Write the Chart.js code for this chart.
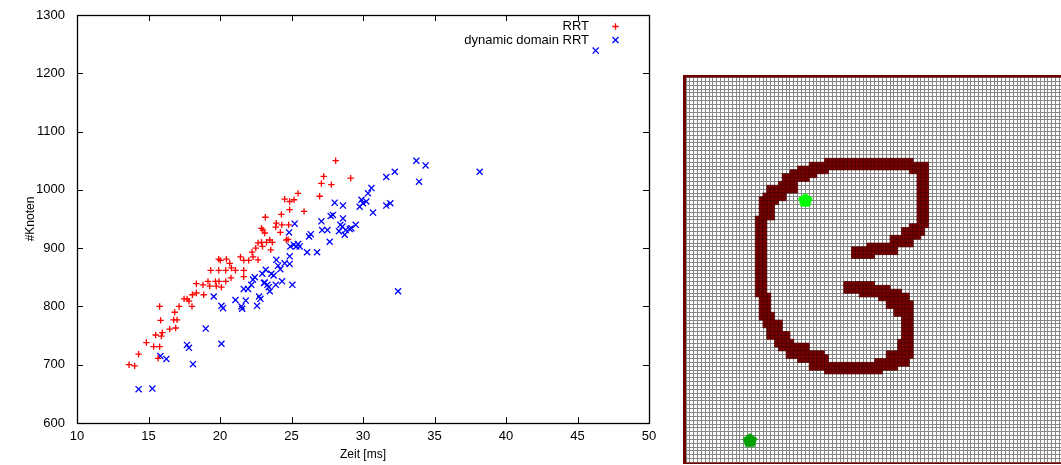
<!DOCTYPE html>
<html>
<head>
<meta charset="utf-8">
<script src="https://cdn.jsdelivr.net/npm/chart.js@4"></script>
<style>
  html, body { margin: 0; padding: 0; background: #fff; width: 1061px; height: 465px; overflow: hidden; }
  #plot { position: absolute; left: 0; top: 0; }
  #map  { position: absolute; left: 683px; top: 75px; }
</style>
</head>
<body>
<canvas id="plot" width="680" height="465"></canvas>
<canvas id="map" width="392" height="390"></canvas>
<script>
// ---- Planner runs: time [ms] vs. number of tree nodes ----
const rrtTime = [
  13.64, 14.03, 14.31, 14.85, 15.36, 15.5, 15.78, 15.67, 15.9, 15.97,
  15.78, 15.85, 16.48, 16.76, 17.0, 16.83, 16.9, 17.14, 17.49, 17.7,
  17.83, 18.04, 18.07, 18.35, 18.35, 18.86, 18.81, 19.16, 19.28, 19.68,
  19.74, 19.93, 20.1, 19.35, 19.91, 20.03, 19.91, 20.4, 20.4, 20.45,
  20.68, 20.8, 20.77, 21.08, 21.43, 21.66, 21.66, 21.66, 22.01, 22.24,
  22.31, 22.66, 22.5, 22.66, 22.9, 22.97, 23.25, 23.48, 23.66, 23.55,
  22.9, 23.0, 23.13, 23.94, 23.9, 24.22, 24.32, 24.64, 24.76, 24.8,
  28.09, 27.25, 27.09, 27.79, 29.14, 26.97, 25.46, 24.52, 24.87, 25.18,
  24.29, 24.87, 25.88, 23.17
];
const rrtNodes = [
  700, 698, 718, 738, 731, 751, 731, 711, 749, 755,
  800, 776, 761, 777, 777, 790, 763, 800, 813, 813,
  809, 800, 820, 823, 839, 820, 837, 843, 835, 843,
  835, 843, 833, 862, 881, 879, 862, 862, 843, 881,
  874, 866, 849, 862, 885, 879, 862, 851, 879, 893,
  885, 880, 900, 909, 910, 903, 910, 914, 910, 897,
  934, 931, 926, 943, 936, 927, 940, 914, 915, 940,
  1050, 1023, 1011, 1009, 1020, 989, 994, 984, 980, 983,
  958, 966, 963, 953
];
const ddrrtTime = [
  14.31, 15.27, 15.83, 16.25, 17.69, 17.83, 18.11, 19.0, 20.1, 19.56,
  20.1, 20.21, 21.08, 21.5, 21.55, 21.8, 22.59, 22.73, 22.83, 21.66,
  21.96, 22.19, 22.31, 22.43, 22.96, 23.12, 23.2, 23.08, 23.41, 23.48,
  23.31, 23.59, 23.75, 23.9, 23.94, 24.06, 24.22, 24.34, 24.52, 24.87,
  24.87, 25.06, 24.92, 25.15, 25.34, 25.46, 25.57, 24.83, 25.22, 26.09,
  26.23, 26.35, 26.79, 27.09, 27.14, 27.51, 27.67, 27.74, 27.9, 28.02,
  28.6, 28.32, 28.42, 28.56, 28.6, 28.72, 28.79, 29.07, 29.49, 29.77,
  30.0, 30.23, 29.19, 29.89, 30.35, 30.59, 31.63, 33.92, 32.22, 33.73,
  34.38, 38.16, 46.27, 31.63, 31.91, 30.7, 32.45
];
const ddrrtNodes = [
  658, 659, 715, 710, 734, 729, 701, 762, 736, 817,
  801, 797, 811, 800, 796, 810, 801, 817, 813, 830,
  830, 837, 846, 850, 856, 841, 863, 840, 833, 826,
  837, 856, 853, 837, 880, 870, 864, 843, 874, 873,
  886, 837, 903, 906, 903, 907, 903, 927, 942, 893,
  920, 924, 893, 946, 931, 931, 911, 955, 957, 978,
  973, 929, 940, 937, 951, 923, 931, 933, 940, 971,
  977, 980, 934, 983, 994, 1003, 1022, 1014, 1031, 1050,
  1042, 1031, 1239, 973, 977, 961, 826
];
const seriesLabels = ['RRT', 'dynamic domain RRT'];
const timeTicks = [10, 15, 20, 25, 30, 35, 40, 45, 50];
const nodeTicks = [600, 700, 800, 900, 1000, 1100, 1200, 1300];

// ---- Occupancy map (100 x 100 cells): wall blocks [col0, col1, row0, row1] ----
const mapCells = 100;
const wallBlocks = [
  [36, 58, 21, 23], [32, 36, 22, 24], [29, 33, 23, 25], [27, 31, 24, 26],
  [25, 28, 25, 27], [24, 28, 27, 29], [21, 25, 28, 31], [20, 23, 30, 32],
  [19, 22, 31, 36], [18, 20, 36, 56], [19, 21, 56, 62], [20, 22, 61, 64],
  [21, 24, 63, 67], [23, 26, 66, 69], [24, 27, 68, 70], [26, 31, 69, 72],
  [29, 35, 71, 73], [32, 36, 72, 75], [36, 50, 74, 76], [49, 54, 73, 75],
  [52, 57, 71, 74], [55, 58, 68, 72], [56, 58, 60, 69], [54, 58, 58, 61],
  [52, 57, 56, 59], [50, 55, 55, 57], [45, 52, 54, 56], [41, 48, 53, 55],
  [58, 62, 22, 24], [60, 62, 23, 38], [58, 61, 38, 40], [56, 60, 39, 41],
  [53, 58, 41, 43], [47, 54, 43, 45], [43, 48, 44, 46]
];
const startCell = [31.0, 31.8];
const goalCell = [16.6, 94.2];

const FONT = "'Liberation Sans', Arial, Helvetica, sans-serif";

// ---------- scatter plot ----------
const frameAndTicks = {
  id: 'frameAndTicks',
  afterDatasetsDraw(chart) {
    const { ctx, chartArea: a, scales: { x, y } } = chart;
    ctx.save();
    ctx.strokeStyle = '#000';
    ctx.lineWidth = 1;
    ctx.beginPath();
    const len = 6;
    x.ticks.forEach(t => {
      const px = Math.round(x.getPixelForValue(t.value)) + 0.5;
      ctx.moveTo(px, a.bottom); ctx.lineTo(px, a.bottom - len);
      ctx.moveTo(px, a.top); ctx.lineTo(px, a.top + len);
    });
    y.ticks.forEach(t => {
      const py = Math.round(y.getPixelForValue(t.value)) + 0.5;
      ctx.moveTo(a.left, py); ctx.lineTo(a.left + len, py);
      ctx.moveTo(a.right, py); ctx.lineTo(a.right - len, py);
    });
    ctx.stroke();
    ctx.lineWidth = 1.3;
    ctx.strokeRect(Math.round(a.left) + 0.5, Math.round(a.top) + 0.5,
                   Math.round(a.right - a.left), Math.round(a.bottom - a.top));
    ctx.restore();
  }
};

const keyBox = {
  id: 'keyBox',
  afterDraw(chart) {
    const { ctx, chartArea: a } = chart;
    ctx.save();
    ctx.font = '13px ' + FONT;
    ctx.textAlign = 'right';
    ctx.textBaseline = 'middle';
    chart.data.datasets.forEach((ds, i) => {
      const yy = a.top + 11.5 + i * 13.5;
      const tx = a.right - 60;
      const mx = a.right - 33.5;
      ctx.fillStyle = '#000';
      ctx.fillText(ds.label, tx, yy);
      ctx.strokeStyle = ds.borderColor;
      ctx.lineWidth = 1.3;
      ctx.beginPath();
      if (ds.pointStyle === 'cross') {
        ctx.moveTo(mx - 3.2, yy); ctx.lineTo(mx + 3.2, yy);
        ctx.moveTo(mx, yy - 3.2); ctx.lineTo(mx, yy + 3.2);
      } else {
        ctx.moveTo(mx - 3, yy - 3); ctx.lineTo(mx + 3, yy + 3);
        ctx.moveTo(mx + 3, yy - 3); ctx.lineTo(mx - 3, yy + 3);
      }
      ctx.stroke();
    });
    ctx.restore();
  }
};

new Chart(document.getElementById('plot'), {
  type: 'scatter',
  data: {
    datasets: [
      {
        label: seriesLabels[0],
        data: rrtTime.map((t, i) => ({ x: t, y: rrtNodes[i] })),
        pointStyle: 'cross', pointRadius: 3.2, pointBorderWidth: 1.3,
        borderColor: '#ff0000', backgroundColor: '#ff0000'
      },
      {
        label: seriesLabels[1],
        data: ddrrtTime.map((t, i) => ({ x: t, y: ddrrtNodes[i] })),
        pointStyle: 'crossRot', pointRadius: 4.3, pointBorderWidth: 1.3,
        borderColor: '#0000ff', backgroundColor: '#0000ff'
      }
    ]
  },
  options: {
    responsive: false, animation: false, events: [],
    layout: { autoPadding: false, padding: { left: 0, right: 31, top: 15, bottom: 0 } },
    plugins: { legend: { display: false }, tooltip: { enabled: false } },
    scales: {
      x: {
        type: 'linear', min: timeTicks[0], max: timeTicks[timeTicks.length - 1],
        afterBuildTicks: s => { s.ticks = timeTicks.map(v => ({ value: v })); },
        afterFit: s => { s.height = 42; s.paddingLeft = 0; s.paddingRight = 0; },
        grid: { display: false, drawTicks: false }, border: { display: false },
        ticks: { font: { family: FONT, size: 13 }, color: '#000', padding: 6, maxRotation: 0, autoSkip: false,
                 callback: v => String(v) },
        title: { display: true, text: 'Zeit [ms]', color: '#000', font: { family: FONT, size: 12 }, padding: { top: 0, bottom: 3 } }
      },
      y: {
        type: 'linear', min: nodeTicks[0], max: nodeTicks[nodeTicks.length - 1],
        afterBuildTicks: s => { s.ticks = nodeTicks.map(v => ({ value: v })); },
        afterFit: s => { s.width = 77; s.paddingTop = 0; s.paddingBottom = 0; },
        grid: { display: false, drawTicks: false }, border: { display: false },
        ticks: { font: { family: FONT, size: 13 }, color: '#000', padding: 12, autoSkip: false,
                 callback: v => String(v) },
        title: { display: true, text: '#Knoten', color: '#000', font: { family: FONT, size: 12 }, padding: { top: 23, bottom: 0 } }
      }
    }
  },
  plugins: [frameAndTicks, keyBox]
});

// ---------- occupancy grid ----------
function pentagon(color, size) {
  const c = document.createElement('canvas');
  c.width = c.height = size;
  const g = c.getContext('2d');
  const R = size / 2 - 0.4;
  g.fillStyle = color;
  g.beginPath();
  for (let i = 0; i < 5; i++) {
    const ang = -Math.PI / 2 + i * 2 * Math.PI / 5;
    g.lineTo(size / 2 + R * Math.cos(ang), size / 2 + R * Math.sin(ang) + 0.095 * R);
  }
  g.closePath();
  g.fill();
  return c;
}

const wallCells = [];
const seen = new Set();
wallBlocks.forEach(([c0, c1, r0, r1]) => {
  for (let c = c0; c <= c1; c++) {
    for (let r = r0; r <= r1; r++) {
      const k = c * 1000 + r;
      if (!seen.has(k)) { seen.add(k); wallCells.push({ x: c + 0.5, y: r + 0.5 }); }
    }
  }
});

const mapBorder = {
  id: 'mapBorder',
  afterDraw(chart) {
    const { ctx, chartArea: a } = chart;
    ctx.save();
    ctx.fillStyle = '#6e0000';
    ctx.fillRect(a.left - 3, a.top - 2.5, 3, a.bottom - a.top + 4);
    ctx.fillRect(a.left - 3, a.top - 2.5, a.right - a.left + 8, 2.5);
    ctx.fillRect(a.left - 3, a.bottom, a.right - a.left + 8, 1.5);
    ctx.restore();
  }
};

const cellTicks = Array.from({ length: mapCells + 1 }, (_, i) => ({ value: i }));
const cellPx = 385 / mapCells;

new Chart(document.getElementById('map'), {
  type: 'scatter',
  data: {
    datasets: [
      {
        label: 'walls', data: wallCells, pointStyle: 'rect',
        pointRadius: cellPx / Math.SQRT2 + 0.1, pointBorderWidth: 0.6,
        backgroundColor: '#7a0000', borderColor: '#420000'
      },
      {
        label: 'start', data: [{ x: startCell[0], y: startCell[1] }],
        pointStyle: pentagon('#00ff00', 16), pointRadius: 8
      },
      {
        label: 'goal', data: [{ x: goalCell[0], y: goalCell[1] }],
        pointStyle: pentagon('#00a000', 16), pointRadius: 8
      }
    ]
  },
  options: {
    responsive: false, animation: false, events: [],
    layout: { autoPadding: false, padding: { left: 3, right: 4, top: 2.5, bottom: 2.5 } },
    plugins: { legend: { display: false }, tooltip: { enabled: false } },
    scales: {
      x: {
        type: 'linear', min: 0, max: mapCells,
        afterBuildTicks: s => { s.ticks = cellTicks.slice(); },
        afterFit: s => { s.height = 0; },
        ticks: { display: false },
        grid: { color: '#878787', lineWidth: 1, drawTicks: false },
        border: { display: false }
      },
      y: {
        type: 'linear', min: 0, max: mapCells, reverse: true,
        afterBuildTicks: s => { s.ticks = cellTicks.slice(); },
        afterFit: s => { s.width = 0; },
        ticks: { display: false },
        grid: { color: '#878787', lineWidth: 1, drawTicks: false },
        border: { display: false }
      }
    }
  },
  plugins: [mapBorder]
});
</script>
</body>
</html>
